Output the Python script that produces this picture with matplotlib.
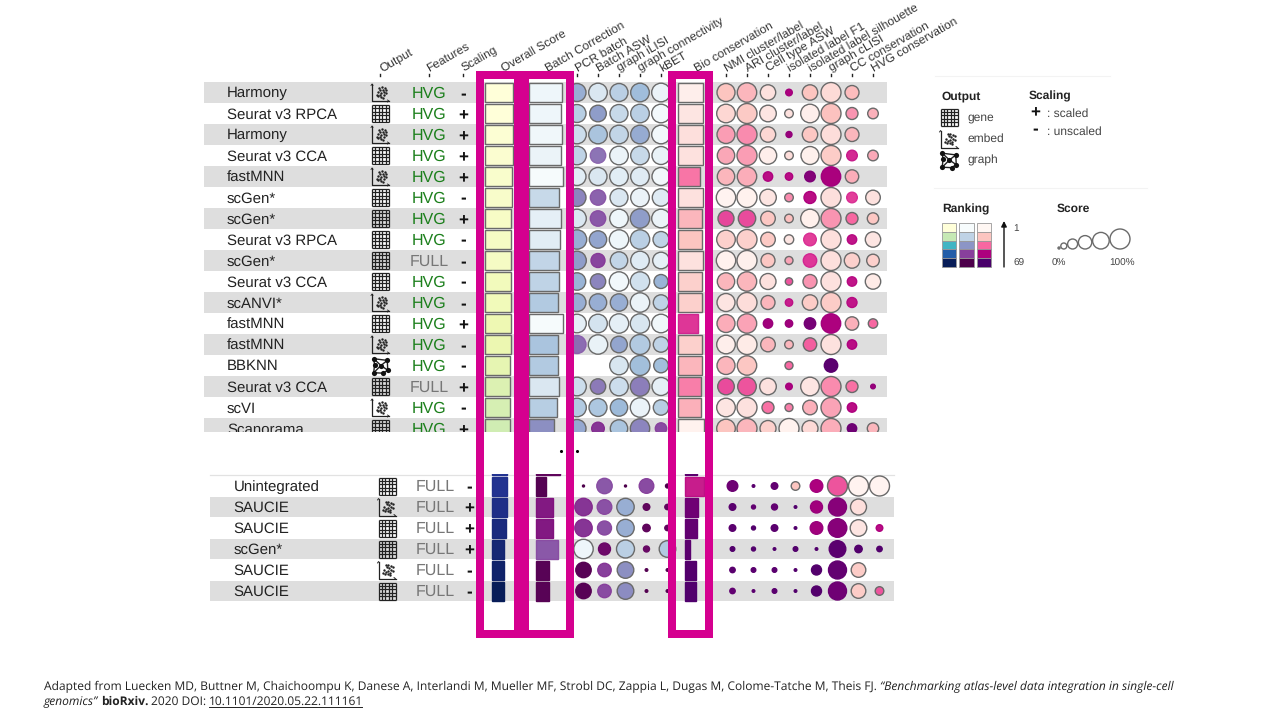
import matplotlib
matplotlib.use("Agg")
import matplotlib.pyplot as plt
from matplotlib.colors import LinearSegmentedColormap
from matplotlib.patches import Circle, Rectangle

plt.rcParams['font.family'] = ['Liberation Sans', 'DejaVu Sans']
plt.rcParams['text.hinting'] = 'no_hinting'
plt.rcParams['text.hinting_factor'] = 1

N = None

method_top = ["Harmony", "Seurat v3 RPCA", "Harmony", "Seurat v3 CCA", "fastMNN", "scGen*", "scGen*",
              "Seurat v3 RPCA", "scGen*", "Seurat v3 CCA", "scANVI*", "fastMNN", "fastMNN", "BBKNN",
              "Seurat v3 CCA", "scVI", "Scanorama"]
output_top = ["embed", "gene", "embed", "gene", "embed", "gene", "gene", "gene", "gene", "gene", "embed",
              "gene", "embed", "graph", "gene", "embed", "gene"]
features_top = ["HVG", "HVG", "HVG", "HVG", "HVG", "HVG", "HVG", "HVG", "FULL", "HVG", "HVG", "HVG", "HVG",
                "HVG", "FULL", "HVG", "HVG"]
scaling_top = ["-", "+", "+", "+", "+", "-", "+", "-", "-", "-", "-", "+", "-", "-", "+", "-", "+"]

overall_top = [.943, .933, .933, .923, .91, .89, .877, .877, .867, .867, .867, .857, .85, .843, .843, .833, .833]
overall_rank_top = [0, 0, .02, .03, .04, .05, .06, .07, .07, .09, .1, .12, .13, .15, .18, .2, .22]
batch_top = [.934, .914, .934, .914, .971, .857, .906, .894, .857, .857, .829, .971, .82, .82, .866, .814, .70]
batch_rank_top = [.05, .05, .04, .07, .01, .22, .1, .12, .24, .25, .3, .01, .33, .3, .15, .28, .52]
bio_top = [.962, .962, .935, .935, .846, .935, .896, .896, .935, .896, .912, .769, .912, .896, .858, .885, .973]
bio_rank_top = [.05, .1, .13, .12, .47, .12, .3, .25, .12, .2, .2, .62, .2, .3, .45, .32, .03]

# PCR batch, Batch ASW, graph iLISI, graph connectivity, kBET
batch_scores_top = [
    [.9, .93, .9, .93, .93], [.9, .83, .9, .93, .93], [.93, .93, .93, .93, .93], [.93, .77, .93, .93, .9],
    [.9, .9, .93, .93, .9], [.9, .77, .9, .93, .87], [.93, .77, .93, .97, .93], [.97, .87, .97, .97, .8],
    [.93, .7, .87, .93, .83], [.87, .77, .97, .97, .7], [.9, .87, .87, .97, .77], [.93, .93, .97, .97, .93],
    [.9, .97, .83, 1, .77], [N, N, .93, 1, .73], [.93, .77, .93, .97, .9], [.93, .9, .87, .97, .77],
    [.9, .63, .87, .97, .57],
]
batch_ranks_top = [
    [.42, .15, .27, .37, .07], [.28, .48, .22, .27, .02], [.2, .33, .24, .43, .03], [.25, .6, .07, .22, .08],
    [.12, .15, .12, .13, .03], [.55, .65, .15, .07, .13], [.15, .68, .05, .48, .07], [.42, .45, .05, .27, .25],
    [.48, .74, .24, .13, .1], [.4, .55, .03, .18, .4], [.42, .42, .42, .07, .25], [.1, .17, .1, .16, .04],
    [.62, .08, .45, .3, .25], [N, N, .16, .36, .36], [.2, .58, .2, .57, .1], [.3, .32, .38, .07, .28],
    [.44, .78, .33, .55, .72],
]
# NMI, ARI, cell type ASW, isolated F1, isolated silhouette, cLISI, CC, HVG
bio_scores_top = [
    [.9, .97, .77, .33, .77, 1, .7, N], [.93, 1, .83, .43, .93, 1, .6, .53], [.9, 1, .77, .3, .77, 1, .7, N],
    [.87, 1, .87, .43, .9, 1, .53, .53], [.87, .97, .47, .37, .53, .97, .67, N],
    [.97, 1, .83, .43, .6, 1, .53, .73], [.8, .87, .73, .43, .93, 1, .6, .57],
    [.93, 1, .73, .47, .63, 1, .47, .77], [.97, 1, .7, .4, .67, 1, .77, .63],
    [.87, .97, .8, .37, .7, 1, .47, .77], [.9, 1, .7, .37, .77, 1, .5, N],
    [.9, .97, .47, .37, .57, .97, .67, .47], [.93, 1, .73, .43, .67, 1, .47, N],
    [.9, .97, N, .4, N, .67, N, N], [.83, .93, .83, .33, .93, 1, .6, .23],
    [.93, 1, .6, .4, .73, 1, .47, N], [.93, 1, .8, 1, .8, 1, .47, .57],
]
bio_ranks_top = [
    [.25, .3, .12, .75, .25, .15, .28, N], [.17, .23, .1, .12, .05, .26, .4, .32],
    [.38, .42, .17, .8, .24, .14, .3, N], [.35, .38, .05, .14, .04, .22, .65, .34],
    [.3, .33, .72, .72, .85, .76, .33, N], [.02, .03, .1, .42, .72, .13, .6, .12],
    [.58, .57, .24, .27, .04, .4, .5, .24], [.2, .2, .23, .1, .6, .13, .7, .1],
    [.03, .04, .24, .36, .62, .13, .2, .2], [.3, .3, .12, .55, .4, .12, .7, .07],
    [.1, .14, .3, .68, .22, .22, .7, N], [.33, .36, .78, .78, .88, .75, .32, .5],
    [.05, .07, .3, .3, .52, .12, .72, N], [.3, .24, N, .5, N, .95, N, N],
    [.57, .55, .12, .75, .1, .42, .48, .8], [.1, .12, .48, .45, .32, .36, .72, N],
    [.25, .3, .2, .03, .16, .33, .9, .3],
]

method_bottom = ["Unintegrated", "SAUCIE", "SAUCIE", "scGen*", "SAUCIE", "SAUCIE"]
output_bottom = ["gene", "embed", "gene", "gene", "embed", "gene"]
features_bottom = ["FULL"] * 6
scaling_bottom = ["-", "+", "+", "+", "-", "-"]
overall_bottom = [.533, .51, .477, .433, .41, .40]
overall_rank_bottom = [.88, .9, .92, .94, .96, 1]
batch_bottom = [.306, .506, .506, .649, .391, .391]
batch_rank_bottom = [.98, .85, .85, .68, .97, .97]
bio_bottom = [.731, .512, .462, .204, .435, .412]
bio_rank_bottom = [.68, .9, .93, .95, .97, .98]
batch_scores_bottom = [
    [.1, .77, .1, .73, .2], [.87, .73, .87, .33, .27], [.87, .7, .87, .37, .27],
    [.97, .6, .9, .3, .83], [.77, .67, .83, .13, .13], [.77, .67, .83, .13, .13],
]
batch_ranks_bottom = [
    [1, .68, 1, .72, 1], [.78, .7, .42, .95, .95], [.78, .7, .42, .95, .95],
    [.05, .92, .27, .93, .3], [.97, .75, .52, .98, .98], [.97, .72, .53, .98, .98],
]
bio_scores_bottom = [
    [.53, .13, .33, .43, .63, 1, 1, 1], [.33, .2, .3, .13, .6, .9, .8, N],
    [.33, .2, .33, .13, .63, .93, .83, .33], [.23, .2, .13, .23, .13, .83, .37, .27],
    [.27, .23, .23, .13, .5, .9, .73, N], [.27, .13, .23, .13, .5, .9, .73, .43],
]
bio_ranks_bottom = [
    [.9, .95, .93, .25, .75, .55, .02, .02], [.95, .93, .93, .97, .78, .84, .13, N],
    [.95, .97, .95, .97, .78, .84, .1, .72], [.97, .97, .97, .97, .97, .95, .97, .97],
    [.95, .95, .95, .97, .97, .93, .22, N], [.93, .95, .95, .97, .97, .9, .22, .55],
]
# the row hidden behind the white gap, only its lower edge shows
cut_scores = [.533, .686, .462]
cut_ranks = [.87, .95, .95]

header_labels = ["Output", "Features", "Scaling", "Overall Score", "Batch Correction", "PCR batch", "Batch ASW",
                 "graph iLISI", "graph connectivity", "kBET", "Bio conservation", "NMI cluster/label",
                 "ARI cluster/label", "Cell type ASW", "isolated label F1", "isolated label silhouette",
                 "graph cLISI", "CC conservation", "HVG conservation"]
header_x = [382, 429, 464, 504, 548, 578, 599, 620, 641, 662, 697, 727, 748, 769, 790, 811, 832, 853, 874]
header_ticks = [380, 429, 463, 577, 598, 619, 640, 661, 726, 747, 768, 789, 810, 831, 852, 873]

ranking_steps = [0, .25, .5, .75, 1]
score_steps = [.1, .3, .5, .67, .83, 1]

# little hand placed marks for the output icons, unit box -1..1
embed_pts = [(.1, .1), (.45, -.05), (-.05, -.3), (.4, .35), (-.25, .45), (.65, .1), (.15, -.6), (.5, -.5),
             (-.35, -.05), (.25, -.25), (-.1, .25), (.7, -.3), (.1, .5), (.3, .6), (-.45, .3), (-.15, -.55)]
graph_nodes = [(-.8, -.8), (.8, -.6), (.05, .0), (.85, .55), (-.8, .85), (.3, .9), (-.7, -.1)]
graph_edges = [(0, 2), (1, 2), (2, 3), (2, 4), (4, 5), (0, 6), (6, 4), (3, 5), (0, 1), (1, 3)]

blue_map = LinearSegmentedColormap.from_list("ylgnbu", ['#ffffd9', '#edf8b1', '#c7e9b4', '#7fcdbb', '#41b6c4',
                                                        '#1d91c0', '#225ea8', '#253494', '#081d58'])
pur_map = LinearSegmentedColormap.from_list("bupu", ['#f7fcfd', '#e0ecf4', '#bfd3e6', '#9ebcda', '#8c96c6',
                                                     '#8c6bb1', '#88419d', '#810f7c', '#4d004b'])
pink_map = LinearSegmentedColormap.from_list("rdpu", ['#fff7f3', '#fde0dd', '#fcc5c0', '#fa9fb5', '#f768a1',
                                                      '#dd3497', '#ae017e', '#7a0177', '#49006a'])

fig = plt.figure(figsize=(12.8, 7.2), dpi=100)
ax = fig.add_axes([0, 0, 1, 1])
ax.set_xlim(0, 1280)
ax.set_ylim(720, 0)
ax.axis("off")

EDGE = '#6a6a6a'
FRAME = '#d5008f'
TXT = '#222222'


def edge_of(rank, cmap):
    # dark marks have no visible grey ring in the original
    return EDGE if rank < .6 else cmap(float(rank) * .9 + .1)


def draw_icon(kind, cx, cy):
    s = 8.5
    if kind == "gene":
        for k in range(6):
            off = -s + 2 * s * k / 5
            ax.plot([cx - s, cx + s], [cy + off, cy + off], color='#222222', lw=0.9, zorder=3, solid_capstyle='butt')
            ax.plot([cx + off, cx + off], [cy - s, cy + s], color='#222222', lw=0.9, zorder=3, solid_capstyle='butt')
    elif kind == "embed":
        ax.plot([cx - s, cx - s, cx + s], [cy - s, cy + s, cy + s], color='#222222', lw=0.9, zorder=3)
        ax.plot([cx - s - 1, cx - s, cx - s + 1], [cy - s + 1.5, cy - s, cy - s + 1.5], color='#222222', lw=0.6, zorder=3)
        ax.plot([cx + s - 1.5, cx + s, cx + s - 1.5], [cy + s - 1, cy + s, cy + s + 1], color='#222222', lw=0.6, zorder=3)
        ax.scatter([cx + p[0] * s for p in embed_pts], [cy + p[1] * s for p in embed_pts], s=3, color='#222222',
                   linewidths=0, zorder=3)
    else:
        for a, b in graph_edges:
            ax.plot([cx + graph_nodes[a][0] * s, cx + graph_nodes[b][0] * s],
                    [cy + graph_nodes[a][1] * s, cy + graph_nodes[b][1] * s], color='#222222', lw=1, zorder=3)
        ax.scatter([cx + p[0] * s for p in graph_nodes], [cy + p[1] * s for p in graph_nodes], s=14, color='#111111',
                   linewidths=0, zorder=3)


def draw_bar(x, y, full, score, rank, cmap):
    ax.add_patch(Rectangle((x, y - 9.5), full * score, 19, facecolor=cmap(float(rank)), edgecolor=edge_of(rank, cmap),
                           lw=1, zorder=2))


def draw_circles(xs, y, scores, ranks, cmap):
    for x, sc, rk in zip(xs, scores, ranks):
        if sc is None:
            continue
        ax.add_patch(Circle((x, y), 10 * sc, facecolor=cmap(float(rk)), edgecolor=edge_of(rk, cmap), lw=1, zorder=2))


def draw_block(y0, xoff, band_x, band_first, names, outs, feats, scals, over, over_r, batch, batch_r, bio, bio_r,
               b_sc, b_rk, p_sc, p_rk):
    for i in range(len(names)):
        y = y0 + 21 * i
        if i % 2 == band_first:
            ax.add_patch(Rectangle((band_x[0], y - 10.5), band_x[1] - band_x[0], 20.5, facecolor='#dedede',
                                   edgecolor='none', zorder=1))
        ax.text(227 + xoff, y + 1, names[i], fontsize=11.15, color=TXT, va='center', ha='left', zorder=3)
        draw_icon(outs[i], 380.5 + xoff, y)
        ax.text(429 + xoff, y + 1, feats[i], fontsize=11.3, va='center', ha='center', zorder=3,
                color='#1b7f1b' if feats[i] == "HVG" else '#777777')
        ax.text(463 + xoff, y + 2, scals[i], fontsize=12.5, fontweight='bold', color='#111111', va='center',
                ha='center', zorder=3)
        draw_bar(485 + xoff, y, 30, over[i], over_r[i], blue_map)
        draw_bar(529 + xoff, y, 35, batch[i], batch_r[i], pur_map)
        draw_bar(678.3 + xoff, y, 26, bio[i], bio_r[i], pink_map)
        draw_circles([577 + xoff + 21 * k for k in range(5)], y, b_sc[i], b_rk[i], pur_map)
        draw_circles([726 + xoff + 21 * k for k in range(8)], y, p_sc[i], p_rk[i], pink_map)


draw_block(92.5, 0, (204, 887), 0, method_top, output_top, features_top, scaling_top,
           overall_top, overall_rank_top, batch_top, batch_rank_top, bio_top, bio_rank_top,
           batch_scores_top, batch_ranks_top, bio_scores_top, bio_ranks_top)
draw_block(486, 6.5, (210, 894), 1, method_bottom, output_bottom, features_bottom, scaling_bottom,
           overall_bottom, overall_rank_bottom, batch_bottom, batch_rank_bottom, bio_bottom, bio_rank_bottom,
           batch_scores_bottom, batch_ranks_bottom, bio_scores_bottom, bio_ranks_bottom)

draw_bar(491.5, 465, 30, cut_scores[0], cut_ranks[0], blue_map)
draw_bar(535.5, 465, 35, cut_scores[1], cut_ranks[1], pur_map)
draw_bar(684.8, 465, 26, cut_scores[2], cut_ranks[2], pink_map)
ax.add_patch(Rectangle((200, 432), 720, 41.5, facecolor='white', edgecolor='none', zorder=5))
ax.plot([210, 894], [474.5, 474.5], color='#e2e2e2', lw=0.9, zorder=1.5)
ax.scatter([561, 577], [451, 451], s=5, color='black', linewidths=0, zorder=5)

for lab, x in zip(header_labels, header_x):
    ax.text(x, 72, lab, fontsize=8.7, color='#333333', rotation=30, rotation_mode='anchor', ha='left', va='baseline',
            zorder=4)
for x in header_ticks:
    ax.plot([x, x], [74, 76], color='#222222', lw=1, zorder=4)

# magenta highlight boxes
for x0, x1 in [(480, 518), (525, 570), (672, 709)]:
    ax.add_patch(Rectangle((x0, 75), x1 - x0, 559, facecolor='none', edgecolor=FRAME, lw=5.76, zorder=6,
                           joinstyle='miter'))

# legend
LEG = '#444444'
ax.plot([935, 1110], [75.5, 75.5], color='#f3f3f3', lw=0.8)
ax.plot([934, 1147], [188, 188], color='#f3f3f3', lw=0.8)
ax.text(941, 96, "Output", fontsize=8.4, fontweight='bold', color='#222222', va='center')
ax.text(1029, 96, "Scaling", fontsize=8.4, fontweight='bold', color='#222222', va='center')
for kind, y in zip(["gene", "embed", "graph"], [117, 139, 160]):
    draw_icon(kind, 949, y)
    ax.text(967, y, kind, fontsize=8.3, color=LEG, va='center')
ax.text(1035, 113, "+", fontsize=12, fontweight='bold', color='#111111', va='center', ha='center')
ax.text(1035, 130, "-", fontsize=12, fontweight='bold', color='#111111', va='center', ha='center')
ax.text(1047, 114, ": scaled", fontsize=8.4, color=LEG, va='center')
ax.text(1047, 131.5, ": unscaled", fontsize=8.4, color=LEG, va='center')
ax.text(942, 209, "Ranking", fontsize=8.4, fontweight='bold', color='#222222', va='center')
ax.text(1057, 209, "Score", fontsize=8.4, fontweight='bold', color='#222222', va='center')
for x, cmap in zip([941.7, 959.3, 977], [blue_map, pur_map, pink_map]):
    for k, st in enumerate(ranking_steps):
        ax.add_patch(Rectangle((x, 222.7 + 8.9 * k), 14.3, 8.9, facecolor=cmap(float(st)), edgecolor='#999999', lw=0.6))
ax.annotate("", xy=(1004, 221), xytext=(1004, 267), arrowprops=dict(arrowstyle='-|>', color='#111111', lw=1,
                                                                     mutation_scale=8, shrinkA=0, shrinkB=0))
ax.text(1013, 228, "1", fontsize=7.5, color=LEG, va='center')
ax.text(1013, 263.5, "69", fontsize=7.5, color=LEG, va='center')
score_x = 1059
prev = None
for st in score_steps:
    r = 10 * st
    score_x = score_x if prev is None else score_x + prev + r + 0.8
    ax.add_patch(Circle((score_x, 249 - r), r, facecolor='white', edgecolor=EDGE, lw=1))
    prev = r
ax.text(1059, 263.5, "0%", fontsize=7.5, color=LEG, va='center', ha='center')
ax.text(1122, 263.5, "100%", fontsize=7.5, color=LEG, va='center', ha='center')

# citation, pieces placed one after the other since the style changes mid line
foot = ['Open Sans', 'DejaVu Sans']
renderer = fig.canvas.get_renderer()
inv = ax.transData.inverted()


def foot_line(x, y, pieces):
    for txt, style, weight, under in pieces:
        t = ax.text(x, y, txt, fontsize=8.53, family=foot, style=style, fontweight=weight, color='#222222',
                    va='baseline', ha='left')
        bb = t.get_window_extent(renderer)
        x1 = inv.transform((bb.x1, bb.y0))[0]
        if under:
            ax.plot([x, x1 - 1], [y + 2, y + 2], color='#222222', lw=0.7)
        x = x1 + 2.7


foot_line(44, 690, [
    ("Adapted from Luecken MD, Buttner M, Chaichoompu K, Danese A, Interlandi M, Mueller MF, Strobl DC, Zappia L, "
     "Dugas M, Colome-Tatche M, Theis FJ.", 'normal', 'normal', False),
    ("\u201cBenchmarking atlas-level data integration in single-cell", 'italic', 'normal', False),
])
foot_line(44, 705, [
    ("genomics\u201d", 'italic', 'normal', False),
    ("bioRxiv.", 'normal', 'bold', False),
    ("2020 DOI:", 'normal', 'normal', False),
    ("10.1101/2020.05.22.111161", 'normal', 'normal', True),
])

fig.savefig("out.png", dpi=100)
plt.close(fig)
